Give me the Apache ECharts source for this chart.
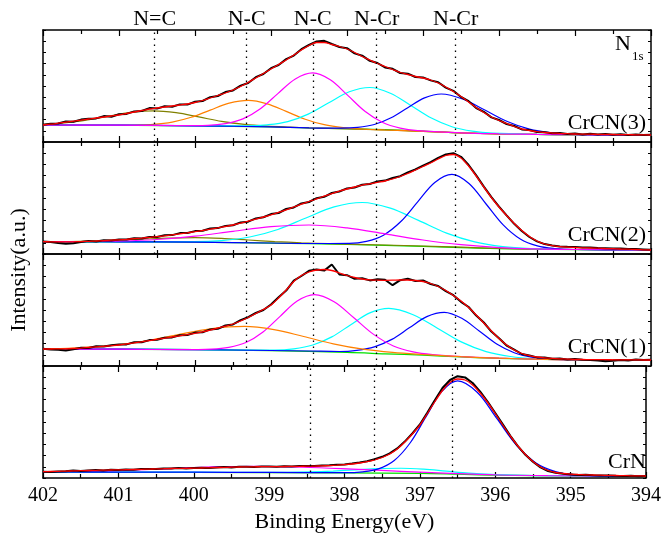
<!DOCTYPE html>
<html><head><meta charset="utf-8">
<script src="https://cdn.jsdelivr.net/npm/echarts@6/dist/echarts.min.js"></script>
<style>html,body{margin:0;padding:0;background:#fff}#c{width:664px;height:537px}</style>
</head><body><div id="c"></div><script>
// Binding energy grid of the measured spectra (eV)
const energy = [
402.0,401.9,401.8,401.7,401.6,401.5,401.4,401.3,401.2,401.1,
401.0,400.9,400.8,400.7,400.6,400.5,400.4,400.3,400.2,400.1,
400.0,399.9,399.8,399.7,399.6,399.5,399.4,399.3,399.2,399.1,
399.0,398.9,398.8,398.7,398.6,398.5,398.4,398.3,398.2,398.1,
398.0,397.9,397.8,397.7,397.6,397.5,397.4,397.3,397.2,397.1,
397.0,396.9,396.8,396.7,396.6,396.5,396.4,396.3,396.2,396.1,
396.0,395.9,395.8,395.7,395.6,395.5,395.4,395.3,395.2,395.1,
395.0,394.9,394.8,394.7,394.6,394.5,394.4,394.3,394.2,394.1,394.0];

const panelNames = ['CrCN(3)','CrCN(2)','CrCN(1)','CrN'];
const peakLabels = ['N=C','N-C','N-C','N-Cr','N-Cr'];
const peakPositions = [400.53, 399.32, 398.45, 397.61, 396.57];
const panelPeakLines = [[0,1,2,3,4],[0,1,2,3,4],[1,2,3,4],[2,3,4]];

// ---------- CrCN(3) ----------
const measured_CrCN3 = [
17.3,18.2,18.5,20.6,20.2,22.4,23.3,23.6,25.9,25.2,
27.8,28.1,30.6,31.0,33.9,33.4,35.8,35.2,37.6,37.4,
40.3,41.0,44.8,46.0,49.9,51.6,56.4,59.0,64.8,68.0,
73.8,77.0,82.9,86.4,92.8,97.0,100.5,101.2,98.0,95.0,
93.8,88.6,86.3,81.2,79.0,74.6,73.2,69.0,68.3,65.0,
64.6,61.6,59.7,54.4,51.2,45.0,40.8,34.0,30.2,24.6,
22.0,18.0,16.0,12.6,11.9,10.0,9.8,8.7,9.0,8.0,
8.4,7.6,8.3,7.4,8.0,7.2,7.8,7.0,7.6,6.9,7.2];
const fit_CrCN3 = [
17.0,17.8,18.8,19.8,20.8,21.8,23.0,24.0,25.0,26.0,
27.0,28.5,30.0,31.5,33.0,34.0,35.0,36.0,37.0,38.0,
39.5,41.5,44.0,46.5,49.0,52.0,55.5,59.5,64.0,68.5,
73.0,77.5,82.0,87.0,92.0,96.5,99.5,99.5,97.5,95.5,
93.0,89.5,85.5,82.0,78.5,75.5,72.5,69.5,67.5,65.5,
64.0,62.0,59.0,55.0,50.5,45.5,40.0,34.5,29.5,25.0,
21.5,18.5,15.5,13.0,11.5,10.3,9.5,9.0,8.6,8.3,
8.0,7.9,7.8,7.7,7.6,7.5,7.4,7.3,7.2,7.1,7.0];
const olive_CrCN3 = [[402,17.4],[401.75,18.9],[401.45,21.6],[401.15,25.7],[400.85,29.6],[400.55,31.1],[400.25,29.3],[399.95,25.1],[399.65,20.6],[399.35,17.6],[399.05,15.9],[398.75,14.9],[398.5,14.2],[398,13.2],[397.5,12],[397,10.6],[396.5,9.2],[396,8.2],[395.5,7.6],[395,7.3],[394,7]];
const orange_CrCN3 = [[402,17],[401.5,16.9],[401,16.8],[400.8,17.0],[400.55,17.6],[400.3,19.9],[400.05,24.7],[399.8,31.9],[399.55,38.8],[399.3,41.6],[399.05,38.2],[398.8,30.6],[398.55,22.8],[398.3,17.3],[398.05,14.4],[397.8,13.0],[397.5,12],[397,10.6],[396.5,9.2],[396,8.2],[395.5,7.6],[395,7.3],[394,7]];
const magenta_CrCN3 = [[402,17],[401,16.8],[400.2,16.35],[399.83,16.65],[399.6,18.3],[399.37,23.1],[399.14,33.3],[398.91,48.4],[398.68,63.1],[398.45,69.1],[398.22,62.2],[397.99,46.6],[397.76,30.5],[397.53,19.5],[397.3,13.9],[397.07,11.4],[396.5,9.2],[396,8.2],[395.5,7.6],[395,7.3],[394,7]];
const cyan_CrCN3 = [[402,17],[401,16.8],[400,16.2],[399.32,16.06],[399.05,17.2],[398.78,20.4],[398.51,27.9],[398.24,39.2],[397.97,50.2],[397.7,54.5],[397.43,48.8],[397.16,36.6],[396.89,24.0],[396.62,15.3],[396.35,10.8],[396.08,8.8],[395.5,7.6],[395,7.3],[394,7]];
const blue_CrCN3 = [[402,17],[401,16.8],[400,16.2],[399,15.2],[398.5,14.2],[398.08,13.8],[397.86,14.6],[397.64,17.5],[397.42,24.2],[397.2,34.3],[396.98,44.1],[396.76,48],[396.47,42.7],[396.18,31.7],[395.89,20.5],[395.6,12.8],[395.31,9.2],[395.02,7.7],[394.5,7.15],[394,7]];
const green_CrCN3 = [[402,17],[400,16.2],[399,15.0],[398.5,14.0],[398,13.3],[397.5,12.4],[397,10.8],[396.5,9.0],[396,8.0],[395,7.2],[394,7]];

// ---------- CrCN(2) ----------
const measured_CrCN2 = [
12.6,12.0,11.0,10.3,10.8,12.0,12.9,12.6,13.8,13.5,
14.6,14.4,15.8,15.5,17.1,17.0,18.8,18.9,20.9,21.0,
22.9,23.2,25.5,25.9,28.1,28.8,31.6,32.3,35.6,36.8,
39.9,41.0,45.0,46.6,50.6,52.0,55.8,57.2,61.0,62.5,
65.6,66.5,69.3,70.0,72.6,73.4,76.0,77.8,81.6,84.5,
88.4,91.8,96.2,99.6,100.8,97.2,89.0,78.6,67.4,56.8,
47.3,38.6,30.2,23.0,17.0,12.6,9.9,8.6,7.6,7.2,
6.9,6.4,6.6,5.9,5.8,5.6,5.5,5.1,4.9,4.6,4.3];
const fit_CrCN2 = [
12.3,12.2,12.1,12.1,12.2,12.4,12.7,13.0,13.4,13.8,
14.2,14.7,15.3,15.9,16.6,17.3,18.2,19.2,20.2,21.2,
22.3,23.5,24.8,26.1,27.5,29.0,30.8,32.8,34.9,37.0,
39.2,41.6,44.2,47.0,49.8,52.5,55.2,57.8,60.4,62.8,
65.0,67.0,68.8,70.2,71.6,73.0,75.0,77.5,80.5,84.0,
87.5,91.0,95.0,98.5,99.5,96.0,88.0,78.0,67.0,56.5,
47.0,38.5,30.5,23.5,17.5,13.0,10.0,8.3,7.3,6.8,
6.5,6.2,6.0,5.8,5.5,5.3,5.0,4.8,4.5,4.2,4.0];
const olive_CrCN2 = [[402,12.3],[401.75,12.45],[401.4,12.8],[401.05,13.7],[400.7,14.8],[400.35,15.95],[400,16.3],[399.65,15.6],[399.3,14.0],[398.95,12.45],[398.6,11.2],[398.25,10.35],[397.5,9.0],[397,8.0],[396.5,6.8],[396,5.6],[395.5,4.9],[395,4.5],[394,4.0]];
const magenta_CrCN2 = [[402,12.3],[401.5,12.45],[401,13.0],[400.5,14.5],[400,17.8],[399.5,22.7],[399,27.3],[398.5,29.0],[398,26.1],[397.5,20.2],[397,14.0],[396.5,9.3],[396,6.4],[395.5,5.1],[395,4.5],[394,4.0]];
const cyan_CrCN2 = [[402,12.3],[401,12.2],[400.02,12.3],[399.65,13.45],[399.28,17.0],[398.91,24.55],[398.54,36.05],[398.17,47.05],[397.8,51.5],[397.43,45.85],[397.06,33.6],[396.69,20.9],[396.32,12.1],[395.95,7.4],[395.58,5.46],[395,4.5],[394,4.0]];
const blue_CrCN2 = [[402,12.3],[401,12.2],[400,11.8],[399,11.0],[398.5,10.5],[397.97,10.55],[397.745,12.6],[397.52,18.85],[397.295,32.2],[397.07,52.15],[396.845,71.55],[396.62,79.6],[396.395,70.45],[396.17,50.0],[395.945,29.1],[395.72,15.0],[395.495,8.1],[395.27,5.5],[395,4.5],[394,4.0]];
const green_CrCN2 = [[402,12.3],[400,11.8],[399,10.9],[398,9.5],[397,7.6],[396,5.4],[395,4.4],[394,4.0]];

// ---------- CrCN(1) ----------
const measured_CrCN1 = [
17.3,16.6,16.2,15.4,16.8,18.2,18.0,19.8,19.4,20.8,
21.4,21.6,23.8,23.7,25.9,26.2,28.3,28.6,30.8,31.0,
33.4,33.8,36.6,37.2,40.5,41.6,45.8,48.8,53.0,56.0,
61.5,68.8,75.4,85.4,90.0,95.2,96.6,95.4,101.5,91.5,
90.8,87.2,87.8,85.6,86.8,86.2,80.8,85.8,87.2,85.0,
85.5,82.0,80.0,74.8,70.8,64.2,59.0,50.4,43.5,34.4,
27.8,20.5,16.4,12.0,10.6,8.6,8.4,7.2,7.4,6.6,
6.9,6.2,6.0,5.4,4.8,5.2,6.0,5.6,6.4,6.0,6.2];
const fit_CrCN1 = [
17.0,17.0,17.1,17.2,17.5,17.9,18.5,19.1,19.7,20.3,
21.0,22.0,23.1,24.2,25.4,26.6,27.8,29.0,30.2,31.4,
32.7,34.2,35.9,37.8,39.8,42.0,45.0,48.5,52.5,56.5,
61.0,68.0,76.0,84.5,90.5,94.0,96.0,96.5,95.5,93.0,
90.5,88.5,87.0,86.2,85.8,85.7,85.8,86.0,86.0,85.5,
84.5,82.5,79.5,75.5,70.5,65.0,58.5,51.0,43.0,35.0,
27.5,21.0,16.0,12.5,10.3,9.0,8.2,7.6,7.2,6.9,
6.6,6.5,6.4,6.3,6.3,6.2,6.2,6.1,6.1,6.0,6.0];
const orange_CrCN1 = [[402,17.3],[401.6,17.96],[401.15,20.03],[400.7,24.38],[400.25,30.9],[399.8,37.14],[399.35,39.55],[398.96,36.36],[398.57,29.47],[398.18,22.2],[397.79,16.8],[397.4,13.54],[397.01,11.5],[396.5,9.3],[396,7.8],[395.5,6.8],[395,6.2],[394,6.0]];
const magenta_CrCN1 = [[402,17],[401,16.8],[400.2,16.3],[399.78,16.8],[399.555,18.55],[399.33,23.43],[399.105,34.0],[398.88,49.68],[398.655,64.95],[398.43,71.4],[398.17,64.27],[397.91,48.25],[397.65,31.62],[397.39,20.05],[397.13,14.1],[396.87,11.3],[396.5,9.3],[396,7.8],[395.5,6.8],[395,6.2],[394,6.0]];
const cyan_CrCN1 = [[402,17],[401,16.8],[400,16.4],[399.5,16.0],[398.95,15.95],[398.7,17.2],[398.45,21.0],[398.2,29.1],[397.95,41.36],[397.7,53.1],[397.45,57.64],[397.13,51.3],[396.81,37.8],[396.49,23.86],[396.17,14.4],[395.85,9.5],[395.53,7.36],[395,6.2],[394,6.0]];
const blue_CrCN1 = [[402,17],[401,16.8],[400,16.4],[399,15.5],[398.5,15.0],[398.1,14.5],[397.87,15.7],[397.64,19.15],[397.41,26.6],[397.18,38.15],[396.95,49.4],[396.72,53.65],[396.49,47.67],[396.26,34.98],[396.03,22.0],[395.8,13.3],[395.57,8.84],[395.34,7.1],[395,6.2],[394,6.0]];
const green_CrCN1 = [[402,17],[400,16.4],[399,15.3],[398,13.6],[397.5,12.2],[397,10.8],[396.5,9.0],[396,7.6],[395,6.2],[394,6.0]];

// ---------- CrN ----------
const measured_CrN = [
6.2,6.0,6.6,6.8,7.4,7.0,7.6,7.9,7.6,8.2,
8.0,8.6,8.3,8.9,9.1,8.9,9.6,9.4,9.9,9.6,
10.0,10.2,10.1,10.6,10.9,10.6,11.2,11.3,11.0,11.6,
11.5,11.3,11.7,11.5,11.9,12.0,12.0,12.6,12.8,13.2,
13.6,14.5,15.6,16.8,18.8,21.2,24.6,29.6,36.4,44.5,
53.5,65.5,78.0,90.0,98.0,101.8,100.6,95.0,86.4,76.2,
65.0,53.6,42.2,31.8,23.2,16.2,10.6,7.0,5.2,4.2,
3.6,3.0,3.2,2.7,2.4,2.6,2.2,2.0,2.3,1.8,2.0];
const fit_CrN = [
6.3,6.5,6.7,6.9,7.1,7.3,7.5,7.7,7.9,8.0,
8.1,8.3,8.5,8.7,8.9,9.1,9.3,9.5,9.6,9.7,
9.8,10.0,10.2,10.4,10.6,10.8,11.0,11.1,11.2,11.3,
11.4,11.4,11.5,11.6,11.7,11.8,11.9,12.1,12.4,12.8,
13.3,14.0,15.0,16.4,18.2,20.5,24.0,29.0,36.0,44.0,
53.0,64.5,76.5,87.5,95.5,99.0,98.0,93.0,85.0,75.5,
64.5,53.0,42.0,32.0,23.5,16.5,11.0,7.5,5.5,4.5,
3.9,3.5,3.2,3.0,2.8,2.6,2.5,2.4,2.2,2.1,2.0];
const magenta_CrN = [[402,6.25],[401.4,6.75],[400.85,7.85],[400.3,9.47],[399.75,11.05],[399.2,11.64],[398.55,10.77],[397.9,8.88],[397.25,6.7],[396.6,4.6],[395.95,3.0],[395.3,2.37],[394,2.0]];
const cyan_CrN = [[402,6.0],[401,5.9],[400,5.8],[399.05,5.66],[398.75,5.72],[398.45,6.08],[398.15,6.95],[397.85,8.2],[397.55,9.43],[397.25,9.75],[396.95,8.8],[396.65,6.87],[396.35,4.96],[396.05,3.56],[395.75,2.82],[395.45,2.44],[395,2.2],[394,2.0]];
const blue_CrN = [[402,6.0],[401,5.9],[400,5.8],[399,5.6],[398,5.3],[397.76,6.2],[397.55,9.1],[397.34,17.5],[397.13,35.0],[396.92,61.1],[396.71,86.4],[396.5,97.1],[396.24,85.7],[395.98,59.6],[395.72,33.0],[395.46,15.0],[395.2,6.4],[394.94,3.2],[394.5,2.1],[394,2.0]];
const green_CrN = [[402,5.8],[400,5.5],[398,5.1],[397,4.6],[396.5,3.8],[396,2.9],[395,2.2],[394,2.0]];

// ---------- chart ----------
const FONT = "'Liberation Serif', 'Times New Roman', 'DejaVu Serif', serif";
const C = {olive:'#808000', orange:'#ff8000', magenta:'#ff00ff', cyan:'#00ffff', blue:'#0000ff', green:'#00e000'};
const panels = [
  {measured: measured_CrCN3, fit: fit_CrCN3, comps: [[C.green, green_CrCN3],[C.olive, olive_CrCN3],[C.orange, orange_CrCN3],[C.cyan, cyan_CrCN3],[C.blue, blue_CrCN3],[C.magenta, magenta_CrCN3]]},
  {measured: measured_CrCN2, fit: fit_CrCN2, comps: [[C.green, green_CrCN2],[C.olive, olive_CrCN2],[C.cyan, cyan_CrCN2],[C.blue, blue_CrCN2],[C.magenta, magenta_CrCN2]]},
  {measured: measured_CrCN1, fit: fit_CrCN1, comps: [[C.green, green_CrCN1],[C.cyan, cyan_CrCN1],[C.blue, blue_CrCN1],[C.magenta, magenta_CrCN1],[C.orange, orange_CrCN1]]},
  {measured: measured_CrN, fit: fit_CrN, comps: [[C.green, green_CrN],[C.cyan, cyan_CrN],[C.magenta, magenta_CrN],[C.blue, blue_CrN]]}
];
const gridTops = [30, 142, 254, 366];
const gridH = 112;
const labelY = [123, 235, 347, 462];

const grids = [], xAxes = [], yAxes = [], series = [], graphics = [];
panels.forEach((p, i) => {
  grids.push({left: 43, right: 13, top: gridTops[i], height: gridH, containLabel: false});
  ['bottom', 'top'].forEach(pos => {
    const last = (i === 3 && pos === 'bottom');
    xAxes.push({
      type: 'value', gridIndex: i, position: pos, min: 394, max: 402, interval: 1, inverse: true,
      axisLine: {show: true, onZero: false, lineStyle: {color: '#000', width: 1.5}},
      axisTick: {show: true, inside: true, length: 6, lineStyle: {color: '#000', width: 1.2}},
      minorTick: {show: true, splitNumber: 2, length: 4, lineStyle: {color: '#000', width: 1.2}},
      axisLabel: {show: last, color: '#000', fontFamily: FONT, fontSize: 20, margin: 8},
      splitLine: {show: false}, minorSplitLine: {show: false},
      name: last ? 'Binding Energy(eV)' : '', nameLocation: 'middle', nameGap: 33,
      nameTextStyle: {color: '#000', fontFamily: FONT, fontSize: 22}
    });
  });
  ['left', 'right'].forEach(pos => {
    yAxes.push({
      type: 'value', gridIndex: i, position: pos, min: 0, max: gridH, interval: 11.2,
      axisLine: {show: true, onZero: false, lineStyle: {color: '#000', width: 1.5}},
      axisTick: {show: true, inside: true, length: 3, lineStyle: {color: '#000', width: 1}},
      axisLabel: {show: false}, splitLine: {show: false}
    });
  });
  const xi = 2 * i, yi = 2 * i;
  p.comps.forEach(([color, data]) => {
    series.push({type: 'line', xAxisIndex: xi, yAxisIndex: yi, data: data, symbol: 'none', smooth: 0.35,
      lineStyle: {color: color, width: 1.2}, silent: true, animation: false, emphasis: {disabled: true}, z: 2});
  });
  series.push({type: 'line', xAxisIndex: xi, yAxisIndex: yi,
    data: energy.map((e, k) => [e, p.measured[k]]), symbol: 'none',
    lineStyle: {color: '#000', width: 2}, silent: true, animation: false, emphasis: {disabled: true}, z: 3,
    markLine: {silent: true, animation: false, symbol: ['none', 'none'],
      lineStyle: {color: '#000', type: [1.5, 4.5], width: 1.3},
      label: {show: i === 0, position: 'end', formatter: q => q.name, color: '#000', fontFamily: FONT, fontSize: 22, distance: 0},
      emphasis: {disabled: true},
      data: panelPeakLines[i].map(k => ({name: peakLabels[k], xAxis: peakPositions[k]}))}
  });
  series.push({type: 'line', xAxisIndex: xi, yAxisIndex: yi,
    data: energy.map((e, k) => [e, p.fit[k]]), symbol: 'none', smooth: 0.3,
    lineStyle: {color: '#ff0000', width: 1.3}, silent: true, animation: false, emphasis: {disabled: true}, z: 4});
  graphics.push({type: 'text', x: 646, y: labelY[i], z: 100,
    style: {text: panelNames[i], fontFamily: FONT, fontSize: 22, fill: '#000', align: 'right', verticalAlign: 'middle'}});
});
graphics.push({type: 'text', x: 615, y: 44, z: 100, style: {text: 'N', fontFamily: FONT, fontSize: 22, fill: '#000', align: 'left', verticalAlign: 'middle'}});
graphics.push({type: 'text', x: 632, y: 57, z: 100, style: {text: '1s', fontFamily: FONT, fontSize: 13, fill: '#000', align: 'left', verticalAlign: 'middle'}});
graphics.push({type: 'text', x: 19, y: 270, rotation: Math.PI / 2, z: 100,
  style: {text: 'Intensity(a.u.)', fontFamily: FONT, fontSize: 22, fill: '#000', align: 'center', verticalAlign: 'middle'}});

const chart = echarts.init(document.getElementById('c'), null, {renderer: 'canvas'});
chart.setOption({animation: false, backgroundColor: '#fff', grid: grids, xAxis: xAxes, yAxis: yAxes, series: series, graphic: graphics});
</script></body></html>
